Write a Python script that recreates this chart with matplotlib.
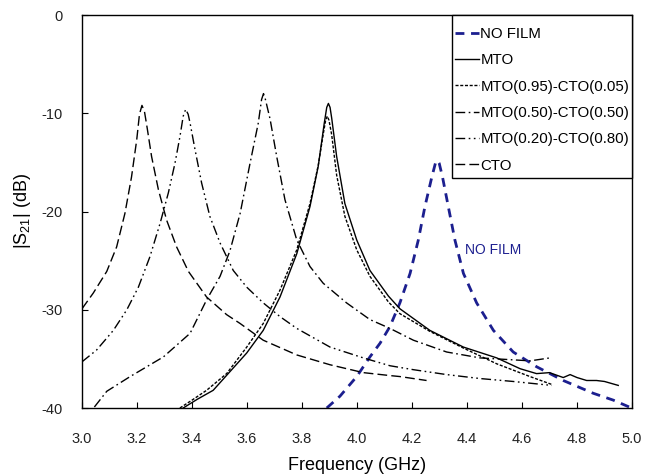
import matplotlib
matplotlib.use("Agg")
import matplotlib.pyplot as plt
from matplotlib.patches import Rectangle

plt.rcParams['font.family'] = ['Liberation Sans', 'DejaVu Sans']
plt.rcParams['axes.unicode_minus'] = False
plt.rcParams['mathtext.default'] = 'regular'

# ---- data (frequency GHz, |S21| dB) ----
nofilm_f = [3.89, 3.938, 3.999, 4.047, 4.084, 4.12, 4.156, 4.193, 4.223, 4.247, 4.272, 4.285,
            4.292, 4.299, 4.311, 4.332, 4.356, 4.387, 4.435, 4.496, 4.568, 4.653, 4.75, 4.859,
            4.932, 4.99]
nofilm_db = [-40.0, -38.8, -36.8, -34.8, -33.4, -31.7, -29.3, -26.3, -22.9, -19.5, -16.5, -15.1,
             -14.8, -15.1, -16.5, -19.5, -22.9, -26.3, -29.3, -32.1, -34.3, -35.8, -37.2, -38.5,
             -39.2, -39.9]

mto_f = [3.368, 3.42, 3.477, 3.538, 3.599, 3.659, 3.72, 3.781, 3.829, 3.859, 3.881, 3.890,
         3.896, 3.902, 3.908, 3.926, 3.956, 3.999, 4.047, 4.114, 4.156, 4.265, 4.387, 4.508,
         4.593, 4.653, 4.70, 4.75, 4.775, 4.80, 4.835, 4.871, 4.90, 4.95]
mto_db = [-40.0, -39.1, -38.2, -36.3, -34.4, -32.1, -28.7, -24.3, -19.5, -15.4, -11.0, -9.4,
          -9.0, -9.4, -10.5, -14.4, -19.2, -22.9, -26.0, -28.6, -29.9, -32.1, -33.8, -34.9,
          -36.0, -36.5, -36.4, -36.9, -36.6, -36.9, -37.2, -37.2, -37.3, -37.7]

m95_f = [3.356, 3.40, 3.453, 3.526, 3.599, 3.659, 3.72, 3.781, 3.829, 3.859, 3.878, 3.886,
         3.892, 3.898, 3.908, 3.926, 3.956, 3.999, 4.047, 4.114, 4.156, 4.265, 4.387, 4.508,
         4.629, 4.708]
m95_db = [-40.0, -39.2, -38.2, -36.5, -33.8, -31.4, -28.0, -23.9, -19.2, -15.3, -12.0, -10.7,
          -10.3, -10.7, -12.2, -16.3, -20.5, -23.9, -26.6, -29.2, -30.4, -32.2, -33.9, -35.5,
          -36.8, -37.6]

m50_f = [3.045, 3.09, 3.175, 3.296, 3.393, 3.453, 3.502, 3.538, 3.575, 3.611, 3.641, 3.653,
         3.660, 3.667, 3.684, 3.708, 3.738, 3.781, 3.829, 3.877, 3.962, 4.047, 4.12, 4.205,
         4.326, 4.447, 4.568, 4.63, 4.702]
m50_db = [-39.9, -38.3, -36.8, -34.8, -32.4, -29.0, -26.6, -24.0, -20.2, -15.1, -11.0, -8.6,
          -8.0, -8.6, -10.6, -14.4, -18.8, -22.9, -25.6, -27.3, -29.3, -31.0, -31.9, -33.1,
          -34.3, -34.9, -35.1, -35.2, -34.9]

m20_f = [3.0, 3.053, 3.114, 3.163, 3.205, 3.247, 3.284, 3.314, 3.338, 3.356, 3.368, 3.377,
         3.386, 3.393, 3.411, 3.435, 3.465, 3.502, 3.55, 3.599, 3.659, 3.72, 3.781, 3.902,
         4.023, 4.12, 4.205, 4.326, 4.447, 4.568, 4.708]
m20_db = [-35.3, -34.1, -32.1, -30.0, -27.7, -24.6, -21.2, -18.1, -15.1, -12.4, -10.3, -9.6,
          -10.1, -11.0, -13.7, -17.1, -20.5, -23.2, -26.0, -27.7, -29.3, -30.7, -31.9, -33.8,
          -34.9, -35.7, -36.1, -36.6, -37.0, -37.3, -37.7]

cto_f = [3.0, 3.041, 3.09, 3.126, 3.156, 3.18, 3.199, 3.209, 3.218, 3.227, 3.237, 3.253,
         3.278, 3.308, 3.344, 3.387, 3.453, 3.526, 3.575, 3.659, 3.781, 3.902, 4.023, 4.12,
         4.156, 4.253]
cto_db = [-29.9, -28.3, -26.1, -23.6, -20.2, -16.5, -12.7, -10.1, -9.2, -9.8, -11.5, -14.4,
          -17.8, -20.9, -23.6, -26.1, -28.7, -30.5, -31.4, -33.1, -34.6, -35.6, -36.4, -36.7,
          -36.8, -37.2]

labels = ['NO FILM', 'MTO', 'MTO(0.95)-CTO(0.05)', 'MTO(0.50)-CTO(0.50)',
          'MTO(0.20)-CTO(0.80)', 'CTO']
x_ticks = [3.0, 3.2, 3.4, 3.6, 3.8, 4.0, 4.2, 4.4, 4.6, 4.8, 5.0]
y_ticks = [0, -10, -20, -30, -40]

blue = '#1c1f8f'

fig = plt.figure(figsize=(6.58, 4.75), dpi=100)
ax = fig.add_axes([82/658, 67/475, 550/658, 393/475])

ax.plot(nofilm_f, nofilm_db, color=blue, lw=2.0, dashes=(3.2, 2.4), label=labels[0])
ax.plot(mto_f, mto_db, color='black', lw=1.0, label=labels[1])
ax.plot(m95_f, m95_db, color='black', lw=1.0, dashes=(2.2, 1.2), label=labels[2])
ax.plot(m50_f, m50_db, color='black', lw=1.0, dashes=(7, 2.5, 1.2, 2.5), label=labels[3])
ax.plot(m20_f, m20_db, color='black', lw=1.0, dashes=(7, 2.5, 1.2, 2.5, 1.2, 2.5), label=labels[4])
ax.plot(cto_f, cto_db, color='black', lw=1.0, dashes=(7, 3), label=labels[5])

ax.set_xlim(3.0, 5.0)
ax.set_ylim(-40, 0)
ax.set_xticks(x_ticks)
ax.set_xticklabels([f'{v:.1f}' for v in x_ticks])
ax.set_yticks(y_ticks)
ax.tick_params(axis='both', direction='in', length=4, width=0.8, labelsize=10.5,
               labelcolor='#222222')
ax.tick_params(axis='x', pad=17)
ax.tick_params(axis='y', pad=14)
for s in ax.spines.values():
    s.set_linewidth(1.0)

ax.set_xlabel('Frequency (GHz)', fontsize=13, labelpad=8)
ax.set_ylabel('|$S_{21}$| (dB)', fontsize=13, labelpad=6)

ax.text(4.393, -23.9, 'NO FILM', color=blue, fontsize=10, va='center', ha='left')

# legend frame (drawn separately to match its margins)
x0 = (452 - 82) / 550
y0 = (408 - 178) / 393
ax.add_patch(Rectangle((x0, y0), 1 - x0, 1 - y0, transform=ax.transAxes,
                       facecolor='white', edgecolor='black', lw=1.0, zorder=4,
                       clip_on=False))
leg = ax.legend(loc='upper left', bbox_to_anchor=((455 - 82) / 550, (408 - 27) / 393),
                fontsize=10.8, frameon=False, borderaxespad=0.0, borderpad=0.0,
                handlelength=1.6, handletextpad=0.1, labelspacing=0.82)
leg.set_zorder(5)

fig.savefig('out.png', dpi=100)
